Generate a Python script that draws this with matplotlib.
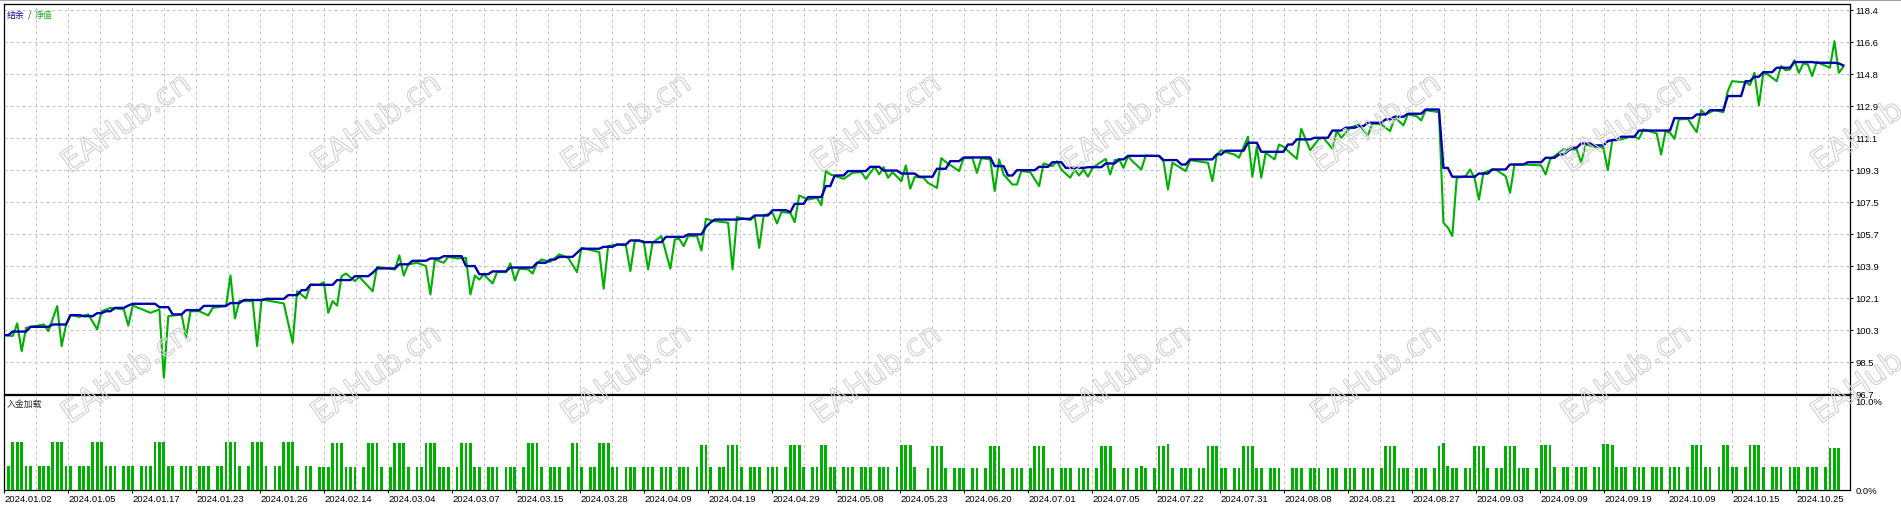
import matplotlib
matplotlib.use("Agg")
import matplotlib.pyplot as plt
import numpy as np
from matplotlib.textpath import TextPath
from matplotlib.patches import PathPatch
from matplotlib.font_manager import FontProperties
from matplotlib.lines import Line2D
import matplotlib.transforms as mtransforms

plt.rcParams['font.family'] = ['Liberation Sans', 'DejaVu Sans']

# ---------------------------------------------------------------- data
date_labels = ["2024.01.02", "2024.01.05", "2024.01.17", "2024.01.23", "2024.01.26",
               "2024.02.14", "2024.03.04", "2024.03.07", "2024.03.15", "2024.03.28",
               "2024.04.09", "2024.04.19", "2024.04.29", "2024.05.08", "2024.05.23",
               "2024.06.20", "2024.07.01", "2024.07.05", "2024.07.22", "2024.07.31",
               "2024.08.08", "2024.08.21", "2024.08.27", "2024.09.03", "2024.09.09",
               "2024.09.19", "2024.10.09", "2024.10.15", "2024.10.25"]

price_tick_labels = ["96.7", "98.5", "100.3", "102.1", "103.9", "105.7", "107.5",
                     "109.3", "111.1", "112.9", "114.8", "116.6", "118.4"]
price_low, price_high = 96.7, 118.4

load_tick_values = [0.0, 10.0]
load_tick_labels = ["0.0%", "10.0%"]

# balance (结余): runs of (first trade index, last trade index, level)
balance_runs = [
    (-1, 0, 100.0), (1, 4, 100.2), (5, 9, 100.47), (10, 13, 100.6), (14, 16, 101.13),
    (17, 19, 101.07), (20, 21, 101.24), (22, 23, 101.35), (24, 26, 101.54), (27, 27, 101.67),
    (28, 33, 101.77), (34, 36, 101.58), (37, 39, 101.17), (40, 43, 101.41), (44, 49, 101.65),
    (50, 52, 101.81), (53, 57, 101.98), (58, 62, 102.05), (63, 65, 102.26), (66, 67, 102.54),
    (68, 73, 102.84), (74, 77, 103.11), (78, 81, 103.33), (82, 82, 103.52), (83, 87, 103.77),
    (88, 90, 104.0), (91, 94, 104.2), (95, 97, 104.33), (98, 102, 104.46), (103, 105, 103.9),
    (106, 108, 103.44), (109, 112, 103.6), (113, 118, 103.82), (119, 121, 104.09),
    (122, 123, 104.27), (124, 127, 104.42), (128, 128, 104.65), (129, 133, 104.88),
    (134, 136, 104.99), (137, 139, 105.12), (140, 142, 105.35), (143, 147, 105.25),
    (148, 152, 105.55), (153, 156, 105.69), (157, 157, 106.12), (158, 158, 106.35),
    (159, 164, 106.53), (165, 167, 106.57), (168, 171, 106.76), (172, 175, 107.06),
    (176, 176, 106.95), (177, 179, 107.42), (180, 183, 107.8), (184, 185, 108.42),
    (186, 188, 109.02), (189, 193, 109.27), (194, 196, 109.51), (197, 200, 109.3),
    (201, 204, 109.13), (205, 208, 108.95), (209, 211, 109.4), (212, 214, 109.83),
    (215, 221, 110.04), (222, 224, 109.55), (225, 226, 109.02), (227, 231, 109.32),
    (232, 234, 109.51), (235, 237, 109.77), (238, 242, 109.45), (243, 246, 109.49),
    (247, 249, 109.7), (250, 251, 109.93), (252, 259, 110.13), (260, 263, 109.89),
    (264, 265, 109.64), (266, 271, 109.93), (272, 273, 110.21), (274, 278, 110.42),
    (279, 281, 110.87), (282, 287, 110.36), (288, 289, 110.77), (290, 293, 111.06),
    (294, 297, 111.15), (298, 300, 111.56), (301, 303, 111.72), (304, 305, 111.81),
    (306, 309, 112.0), (310, 311, 112.19), (312, 314, 112.34), (315, 318, 112.51),
    (319, 322, 112.75), (323, 324, 109.45), (325, 330, 108.95), (331, 333, 109.13),
    (334, 337, 109.36), (338, 341, 109.64), (342, 345, 109.77), (346, 348, 110.02),
    (349, 350, 110.21), (351, 351, 110.4), (352, 353, 110.59), (354, 356, 110.83),
    (357, 359, 110.72), (360, 360, 110.96), (361, 362, 111.02), (363, 366, 111.21),
    (367, 374, 111.56), (375, 379, 112.26), (380, 382, 112.47), (383, 386, 112.71),
    (387, 390, 113.51), (391, 392, 114.35), (393, 394, 114.6), (395, 397, 114.86),
    (398, 401, 115.11), (402, 406, 115.43), (407, 411, 115.39), (412, 412, 115.35),
    (413, 413, 115.24)]

# equity (净值): (trade index, value) vertices
equity_points = [
    (-1, 100.0), (1, 99.95), (2, 100.66), (3, 99.09), (4, 100.41), (8, 100.60), (9, 100.22),
    (11, 101.64), (12, 99.38), (13, 100.60), (14, 101.13), (16, 101.03), (18, 101.17),
    (20, 100.32), (21, 101.35), (23, 101.54), (26, 101.45), (27, 100.54), (28, 101.67),
    (32, 101.26), (34, 101.45), (35, 97.59), (36, 101.07), (39, 101.17), (40, 99.85),
    (41, 101.35), (43, 101.35), (45, 101.11), (46, 101.54), (49, 101.64), (50, 103.37),
    (51, 100.94), (52, 101.92), (55, 101.92), (56, 99.38), (57, 102.01), (62, 101.79),
    (64, 99.56), (65, 102.48), (67, 102.07), (68, 102.86), (70, 102.84), (71, 102.99),
    (72, 101.26), (73, 101.92), (74, 101.67), (75, 103.33), (76, 103.48), (78, 103.05),
    (79, 103.29), (82, 102.48), (83, 103.86), (87, 103.71), (88, 104.50), (89, 103.37),
    (90, 103.99), (92, 104.09), (94, 103.90), (95, 102.30), (96, 104.27), (98, 104.09),
    (99, 104.42), (101, 104.33), (103, 104.37), (104, 102.30), (105, 103.37), (106, 103.14),
    (107, 103.43), (109, 102.92), (110, 103.56), (112, 103.56), (113, 104.05), (114, 103.09),
    (115, 103.75), (117, 103.71), (118, 103.48), (119, 104.05), (120, 104.27), (122, 104.14),
    (124, 104.56), (126, 104.37), (128, 103.56), (129, 104.93), (133, 104.69), (134, 102.62),
    (135, 105.03), (137, 105.12), (139, 105.07), (140, 103.61), (141, 105.31), (143, 105.31),
    (144, 103.71), (145, 105.22), (147, 105.59), (149, 103.75), (150, 105.40), (151, 105.44),
    (152, 105.03), (153, 105.59), (155, 105.59), (156, 104.78), (157, 106.57), (159, 106.44),
    (162, 106.35), (163, 103.71), (164, 106.67), (167, 106.50), (168, 106.72), (169, 104.93),
    (170, 106.76), (172, 106.91), (173, 106.31), (174, 106.95), (176, 106.91), (177, 106.38),
    (178, 107.89), (180, 107.66), (182, 107.76), (183, 107.34), (184, 109.27), (185, 109.08),
    (188, 108.83), (190, 109.17), (192, 109.21), (193, 108.83), (195, 109.51), (196, 109.08),
    (197, 109.49), (198, 108.89), (199, 109.21), (201, 108.70), (202, 109.59), (203, 108.27),
    (204, 108.95), (206, 108.89), (207, 108.60), (209, 108.32), (210, 110.0), (211, 109.78),
    (214, 109.27), (215, 110.0), (217, 110.0), (218, 109.17), (219, 110.0), (220, 109.96),
    (221, 109.93), (222, 108.14), (223, 109.93), (224, 109.08), (226, 108.51), (227, 108.51),
    (228, 109.27), (230, 109.21), (232, 108.42), (233, 109.70), (235, 109.55), (236, 109.83),
    (237, 109.36), (239, 108.89), (240, 109.36), (241, 109.02), (242, 109.36), (243, 108.95),
    (244, 109.45), (247, 109.96), (248, 109.08), (249, 109.89), (250, 109.93), (251, 109.45),
    (252, 110.11), (253, 109.83), (255, 109.36), (256, 110.15), (259, 110.11), (260, 109.83),
    (261, 108.23), (262, 109.74), (265, 109.27), (266, 109.89), (269, 109.77), (270, 109.74),
    (271, 108.70), (272, 110.21), (273, 110.45), (274, 110.34), (276, 110.20), (277, 110.02),
    (279, 111.21), (280, 108.95), (281, 110.64), (282, 108.89), (283, 110.30), (285, 109.93),
    (286, 110.77), (287, 110.64), (290, 109.96), (291, 111.66), (293, 110.45), (295, 111.09),
    (296, 111.15), (298, 110.53), (299, 111.53), (300, 111.15), (302, 111.72), (304, 111.90),
    (306, 111.28), (307, 111.96), (309, 111.90), (311, 111.53), (312, 112.28), (313, 112.09),
    (314, 111.85), (315, 112.47), (317, 112.37), (318, 112.13), (319, 112.71), (322, 112.60),
    (323, 106.35), (324, 106.07), (325, 105.60), (326, 108.89), (328, 108.98), (329, 109.36),
    (330, 108.89), (331, 107.66), (332, 109.17), (334, 109.36), (335, 109.32), (337, 108.98),
    (338, 108.04), (339, 109.64), (341, 109.64), (345, 109.59), (346, 109.08), (347, 109.93),
    (348, 110.11), (350, 110.49), (353, 110.49), (354, 109.74), (355, 110.77), (357, 110.64),
    (359, 110.59), (360, 109.32), (361, 111.02), (363, 111.06), (365, 111.21), (366, 111.21),
    (367, 111.09), (368, 111.62), (371, 111.40), (372, 110.21), (373, 111.53), (374, 111.43),
    (375, 111.09), (376, 112.19), (378, 112.22), (380, 111.47), (381, 112.71), (382, 112.47),
    (384, 112.71), (386, 112.60), (387, 113.79), (388, 114.35), (390, 114.30), (391, 114.30),
    (392, 114.13), (393, 114.82), (394, 112.98), (395, 114.82), (396, 114.73), (398, 114.35),
    (399, 115.20), (400, 114.97), (401, 115.01), (402, 115.54), (403, 114.82), (404, 115.35),
    (405, 115.30), (406, 114.64), (407, 115.43), (410, 115.11), (411, 116.61), (412, 114.82),
    (413, 115.16)]

# deposit load (入金加载) per trade: '.' none, 'l' low, 'L' low+, 'h' high, 'H' high+, 'm' mid
load_codes = (
    "lhhhll.lll" "hhhll.lllh" "hhlll.lll." "lllhhhll.l" "ll.lll.llh" "hhl.lhhhl." "llhhhl.ll."
    "lllhhhlll." "lhhhl.lhhh" "l.llhhhlll" ".lhhhll.ll" "l.lll.lhhh" "l.lll.lhhl" ".llhhhll.l"
    "ll.lll.lll" ".lll.lhhl." "llhhhl.lll" ".lll.lhhhl" ".llhhll.ll" "l.lll.lll." "lhhhl..lhh"
    "hl.lll.ll." "lhhhl.lll." "lhhhll.lll" ".lll.lhhhl" ".ll.lLl.lh" "hHl.lll.ll" "hhhll.llhh"
    "hll.lll..l" "ll.lll.lll" ".lll.lll.l" "hhhlll.lll" ".lhHLll.ll" "hhhl.llhhh" "lll.lhhhl."
    "ll.lll.llH" "Hhlll.lll." "lll.lll.lh" "hhll.lhhll" ".lhhhl.lll" ".lll.lll.l" "mmm")
load_region_start = [0, 70, 139, 207, 276, 345]
load_low = [2.62, 2.58, 2.58, 2.43, 2.43, 2.51]
load_high = [5.33, 5.22, 5.03, 4.95, 4.95, 5.03]
load_low_plus = [2.85, 2.80, 2.80, 2.62, 2.69, 2.70]
load_high_plus = [5.50, 5.40, 5.20, 5.10, 5.25, 5.14]
load_mid = 4.69

# ---------------------------------------------------------------- layout
W, H = 1901, 506
fig = plt.figure(figsize=(W / 100, H / 100), dpi=100)
fig.patch.set_facecolor('white')

BAR0_PX, BAR_STEP_PX = 8.33, 4.443


def px_to_idx(px):
    return (np.asarray(px, dtype=float) - BAR0_PX) / BAR_STEP_PX


LEFT_PX, RIGHT_PX = 3.5, 1850.0
MAIN_TOP, MAIN_BOT = 5.0, 394.5
SUB_TOP, SUB_BOT = 396.0, 490.5


def fig_rect(top, bot):
    return [LEFT_PX / W, 1 - bot / H, (RIGHT_PX - LEFT_PX) / W, (bot - top) / H]


ax = fig.add_axes(fig_rect(MAIN_TOP, MAIN_BOT))
axb = fig.add_axes(fig_rect(SUB_TOP, SUB_BOT))

xlim = (float(px_to_idx(LEFT_PX)), float(px_to_idx(RIGHT_PX)))
grid_px = 4 + 32 * np.arange(1, 58)
label_px = 4 + 64 * np.arange(len(date_labels))

GRID_KW = dict(linestyle=(0, (3, 3)), color='#c4c4c4', linewidth=0.72)
TICK_FS = 6.8

# ---- main panel
price_ticks = np.linspace(price_low, price_high, len(price_tick_labels))
units_per_px = (price_high - price_low) / (12 * 32.0)
ax.set_ylim(price_low, price_low + (MAIN_BOT - MAIN_TOP) * units_per_px)
ax.set_xlim(*xlim)

eq_idx = [p[0] for p in equity_points]
eq_val = [p[1] for p in equity_points]
bal_x, bal_y = [], []
for a, b, v in balance_runs:
    bal_x += [a, b]
    bal_y += [v, v]

ax.plot(eq_idx, eq_val, color='#00b000', lw=1.5, zorder=3)
ax.plot(bal_x, bal_y, color='#0000b0', lw=1.7, zorder=4)

ax.set_xticks(px_to_idx(grid_px))
ax.tick_params(axis='x', length=0, labelbottom=False)
ax.set_yticks(price_ticks)
ax.set_yticklabels(price_tick_labels)
ax.yaxis.tick_right()
ax.tick_params(axis='y', length=2.2, width=0.72, pad=1.6, labelsize=TICK_FS, colors='black')
ax.grid(True, **GRID_KW)
ax.set_axisbelow(True)
for s in ax.spines.values():
    s.set_color('black')
    s.set_linewidth(0.9)

# ---- load panel
idx_all, vals_all = [], []
for i, c in enumerate(load_codes):
    if c == '.':
        continue
    r = max(k for k, s in enumerate(load_region_start) if i >= s)
    v = {'l': load_low[r], 'L': load_low_plus[r], 'h': load_high[r],
         'H': load_high_plus[r], 'm': load_mid}[c]
    idx_all.append(i)
    vals_all.append(v)

px_per_pct = (SUB_BOT - 402.0) / 10.0
axb.set_ylim(0, (SUB_BOT - SUB_TOP) / px_per_pct)
axb.set_xlim(*xlim)
axb.bar(idx_all, vals_all, width=0.62, color='#00b000', linewidth=0, zorder=3)

axb.set_xticks(px_to_idx(label_px))
axb.set_xticklabels(date_labels)
axb.set_xticks(px_to_idx(grid_px), minor=True)
for lab in axb.get_xticklabels():
    lab.set_ha('left')
axb.tick_params(axis='x', which='major', length=2.5, width=0.72, pad=0.6,
                labelsize=TICK_FS, colors='black')
axb.tick_params(axis='x', which='minor', length=0)
axb.grid(True, axis='x', which='both', **GRID_KW)
axb.set_axisbelow(True)
axb.set_yticks(load_tick_values)
axb.set_yticklabels(load_tick_labels)
axb.yaxis.tick_right()
axb.tick_params(axis='y', length=0, pad=4.0, labelsize=TICK_FS, colors='black')
for s in axb.spines.values():
    s.set_color('black')
    s.set_linewidth(0.9)

# ---- texts
cjk = ['Noto Sans CJK SC', 'DejaVu Sans']
fig.text(7 / W, 1 - 15 / H, "结余", color='#1010a0', fontsize=6.4, family=cjk,
         ha='left', va='center')
fig.text(28 / W, 1 - 15 / H, "/", color='#202050', fontsize=6.4, family=cjk,
         ha='left', va='center')
fig.text(35 / W, 1 - 15 / H, "净值", color='#20b020', fontsize=6.4, family=cjk,
         ha='left', va='center')
fig.text(7 / W, 1 - 404.5 / H, "入金加载", color='#303030', fontsize=6.4, family=cjk,
         ha='left', va='center')

# window edge at top
fig.add_artist(Line2D([0, 1], [1 - 0.5 / H, 1 - 0.5 / H], transform=fig.transFigure,
                      color='#a0a0a0', lw=0.72))

# ---- watermark
wm_path = TextPath((0, 0), "EAHub.cn", size=31, prop=FontProperties(family='DejaVu Sans'))
ext = wm_path.get_extents()
for cy in (122, 373):
    for cx in 125 + 250 * np.arange(8):
        tr = (mtransforms.Affine2D()
              .translate(-(ext.x0 + ext.x1) / 2, -(ext.y0 + ext.y1) / 2)
              .rotate_deg(35)
              .translate(cx, H - cy))
        fig.add_artist(PathPatch(wm_path, transform=tr, facecolor='none',
                                 edgecolor='#d0d0d0', lw=0.8, zorder=10))

fig.savefig('out.png', dpi=100, facecolor='white')
